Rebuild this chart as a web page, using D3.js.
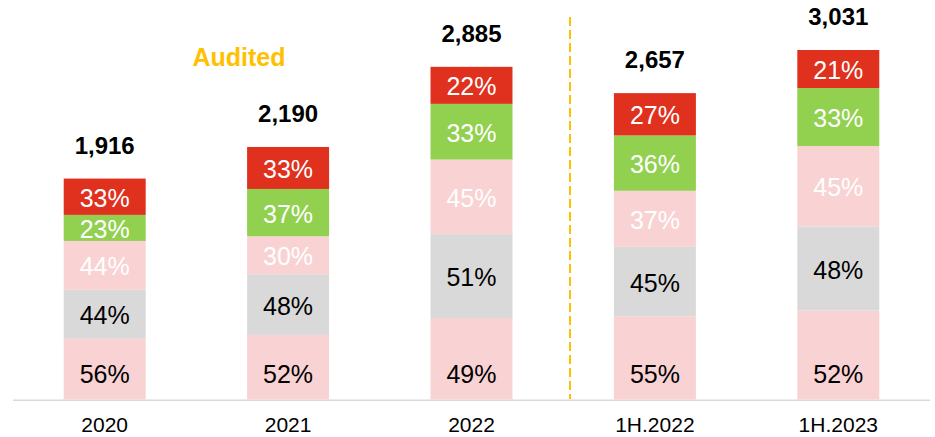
<!DOCTYPE html>
<html>
<head>
<meta charset="utf-8">
<script src="https://cdn.jsdelivr.net/npm/d3@7"></script>
<style>
  body { margin: 0; background: #fff; }
  svg { display: block; font-family: Arial, "Liberation Sans", sans-serif; }
</style>
</head>
<body>
<svg width="935" height="437"></svg>
<script>
// chart values
const categories = ["2020", "2021", "2022", "1H.2022", "1H.2023"];
const totals = [1916, 2190, 2885, 2657, 3031];

// stack segments, bottom to top (estimated sizes)
const seg1 = [528, 560, 707, 722, 771];
const seg2 = [423, 526, 727, 602, 730];
const seg3 = [424, 330, 647, 486, 697];
const seg4 = [226, 410, 483, 480, 503];
const seg5 = [315, 364, 321, 367, 330];

// percentage labels shown in each segment
const lab1 = ["56%", "52%", "49%", "55%", "52%"];
const lab2 = ["44%", "48%", "51%", "45%", "48%"];
const lab3 = ["44%", "30%", "45%", "37%", "45%"];
const lab4 = ["23%", "37%", "33%", "36%", "33%"];
const lab5 = ["33%", "33%", "22%", "27%", "21%"];

const segs = [seg1, seg2, seg3, seg4, seg5];
const labs = [lab1, lab2, lab3, lab4, lab5];
const fills = ["#F9D2D3", "#D9D9D9", "#F9D2D3", "#92D050", "#E0301E"];
const textColors = ["#000", "#000", "#fff", "#fff", "#fff"];

const svg = d3.select("svg");

const x = d3.scaleBand()
    .domain(categories)
    .range([13, 930])
    .paddingInner(0.553)
    .paddingOuter(0.2765);

const y = d3.scaleLinear()
    .domain([0, 3031])
    .range([399.5, 50]);

// build rows for d3.stack
const keys = ["s1", "s2", "s3", "s4", "s5"];
const rows = categories.map((c, i) => {
    const r = {cat: c, idx: i};
    keys.forEach((k, j) => r[k] = segs[j][i]);
    return r;
});
const stacked = d3.stack().keys(keys)(rows);

// baseline
svg.append("line")
    .attr("x1", 13).attr("x2", 930)
    .attr("y1", y(0) + 0.8).attr("y2", y(0) + 0.8)
    .attr("stroke", "#D9D9D9")
    .attr("stroke-width", 1.5);

const layers = svg.selectAll(".layer")
    .data(stacked)
    .enter().append("g")
    .attr("class", "layer");

layers.selectAll("rect")
    .data(d => d)
    .enter().append("rect")
    .attr("x", d => x(d.data.cat))
    .attr("width", x.bandwidth())
    .attr("y", d => y(d[1]))
    .attr("height", d => y(d[0]) - y(d[1]))
    .attr("fill", function() { return fills[d3.select(this.parentNode).datum().index]; });

// segment labels
layers.each(function(layer) {
    const li = layer.index;
    d3.select(this).selectAll("text")
        .data(layer)
        .enter().append("text")
        .attr("x", d => x(d.data.cat) + x.bandwidth() / 2)
        .attr("y", d => li === 0 ? y(0) - 26 : (y(d[0]) + y(d[1])) / 2 + 1)
        .attr("text-anchor", "middle")
        .attr("dominant-baseline", "central")
        .attr("font-size", 25)
        .attr("fill", textColors[li])
        .text(d => labs[li][d.data.idx]);
});

// totals
svg.selectAll(".total")
    .data(categories)
    .enter().append("text")
    .attr("class", "total")
    .attr("x", d => x(d) + x.bandwidth() / 2)
    .attr("y", (d, i) => y(totals[i]) - 25)
    .attr("text-anchor", "middle")
    .attr("font-size", 24)
    .attr("font-weight", "bold")
    .attr("fill", "#000")
    .text((d, i) => d3.format(",")(totals[i]));

// category labels
svg.selectAll(".cat")
    .data(categories)
    .enter().append("text")
    .attr("class", "cat")
    .attr("x", d => x(d) + x.bandwidth() / 2)
    .attr("y", 432)
    .attr("text-anchor", "middle")
    .attr("font-size", 21)
    .attr("fill", "#000")
    .text(d => d);

// audited / interim divider
svg.append("line")
    .attr("x1", 570).attr("x2", 570)
    .attr("y1", 17).attr("y2", 399)
    .attr("stroke", "#FFC000")
    .attr("stroke-width", 2)
    .attr("stroke-dasharray", "9,4");

svg.append("text")
    .attr("x", 239)
    .attr("y", 66)
    .attr("text-anchor", "middle")
    .attr("font-size", 25)
    .attr("font-weight", "bold")
    .attr("fill", "#FFC000")
    .text("Audited");
</script>
</body>
</html>
